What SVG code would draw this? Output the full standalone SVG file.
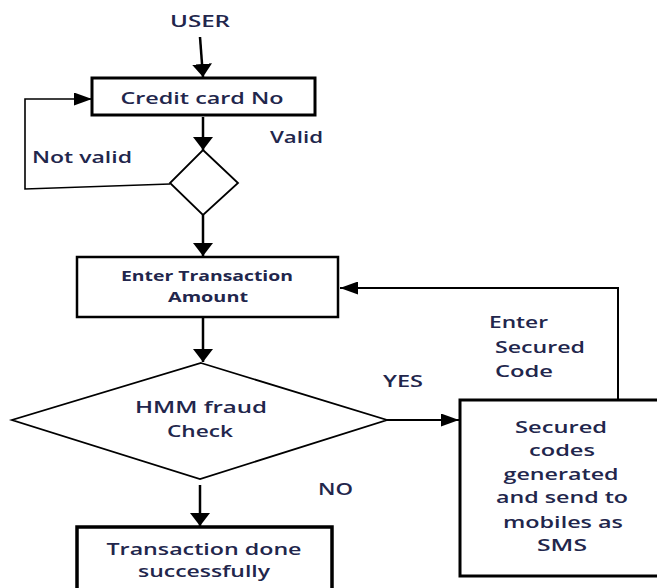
<svg xmlns="http://www.w3.org/2000/svg" width="657" height="588" viewBox="0 0 657 588">
  <defs>
    <style>
      text { font-family: "Open Sans", "Noto Sans", "Liberation Sans", sans-serif; font-size: 16px; font-weight: 600; fill: #22264c; }
      .small { font-size: 14px; font-weight: 700; }
      .box { fill: #ffffff; stroke: #000000; stroke-width: 3; }
      .decision { fill: #ffffff; stroke: #000000; stroke-width: 1.8; }
      .flow { fill: none; stroke: #000000; stroke-width: 2.5; }
      .thin { fill: none; stroke: #000000; stroke-width: 1.6; }
    </style>
    <!-- vertical arrowhead: short and wide -->
    <marker id="headV" viewBox="0 0 13 20" refX="13" refY="10" markerWidth="13" markerHeight="20" markerUnits="userSpaceOnUse" orient="auto">
      <path d="M0,0 L13,10 L0,20 Z" fill="#000000"/>
    </marker>
    <!-- horizontal arrowhead: long and narrow -->
    <marker id="headH" viewBox="0 0 18 13" refX="18" refY="6.5" markerWidth="18" markerHeight="13" markerUnits="userSpaceOnUse" orient="auto">
      <path d="M0,0 L18,6.5 L0,13 Z" fill="#000000"/>
    </marker>
  </defs>

  <rect x="0" y="0" width="657" height="588" fill="#ffffff"/>

  <!-- connectors -->
  <g id="connectors">
    <line class="flow" x1="200" y1="37" x2="203" y2="77" marker-end="url(#headV)"/>
    <line class="flow" x1="203" y1="117" x2="203" y2="150" marker-end="url(#headV)"/>
    <polyline class="thin" points="170,184 25,189 25,99 92,99" marker-end="url(#headH)"/>
    <line class="flow" x1="203" y1="215" x2="203" y2="256" marker-end="url(#headV)"/>
    <line class="flow" x1="203" y1="318" x2="203" y2="362" marker-end="url(#headV)"/>
    <line class="thin" x1="387" y1="420" x2="459" y2="420" marker-end="url(#headH)" style="stroke-width:2"/>
    <polyline class="thin" points="618,400 618,288 340,288" marker-end="url(#headH)" style="stroke-width:2"/>
    <line class="flow" x1="200" y1="485" x2="200" y2="526" marker-end="url(#headV)"/>
  </g>

  <!-- start label -->
  <g id="user">
    <text x="200" y="27" text-anchor="middle" textLength="60" lengthAdjust="spacingAndGlyphs">USER</text>
  </g>

  <g id="credit-card">
    <rect class="box" x="92" y="78" width="223" height="37"/>
    <text x="202" y="104" text-anchor="middle" textLength="163" lengthAdjust="spacingAndGlyphs">Credit card No</text>
  </g>

  <g id="card-check">
    <polygon class="decision" points="203,150 238,183 203,215 170,183"/>
  </g>

  <g id="amount">
    <rect class="box" x="77" y="257" width="261" height="60" style="stroke-width:2.5"/>
    <text class="small" x="207" y="281" text-anchor="middle" textLength="172" lengthAdjust="spacingAndGlyphs">Enter Transaction</text>
    <text class="small" x="208" y="302" text-anchor="middle" textLength="80" lengthAdjust="spacingAndGlyphs">Amount</text>
  </g>

  <g id="fraud-check">
    <polygon class="decision" points="201,363 387,420 200,479 12,420"/>
    <text x="201" y="413" text-anchor="middle" textLength="132" lengthAdjust="spacingAndGlyphs">HMM fraud</text>
    <text x="200" y="437" text-anchor="middle" textLength="66" lengthAdjust="spacingAndGlyphs">Check</text>
  </g>

  <g id="secured-codes">
    <rect class="box" x="460" y="400" width="220" height="176"/>
    <text x="561" y="433" text-anchor="middle" textLength="92" lengthAdjust="spacingAndGlyphs">Secured</text>
    <text x="562" y="456" text-anchor="middle" textLength="66" lengthAdjust="spacingAndGlyphs">codes</text>
    <text x="561" y="480" text-anchor="middle" textLength="115" lengthAdjust="spacingAndGlyphs">generated</text>
    <text x="562" y="503" text-anchor="middle" textLength="132" lengthAdjust="spacingAndGlyphs">and send to</text>
    <text x="563" y="528" text-anchor="middle" textLength="120" lengthAdjust="spacingAndGlyphs">mobiles as</text>
    <text x="562" y="551" text-anchor="middle" textLength="50" lengthAdjust="spacingAndGlyphs">SMS</text>
  </g>

  <g id="done">
    <rect class="box" x="77" y="527" width="255" height="80" style="stroke-width:3.5"/>
    <text x="204" y="555" text-anchor="middle" textLength="195" lengthAdjust="spacingAndGlyphs">Transaction done</text>
    <text x="204" y="577" text-anchor="middle" textLength="132" lengthAdjust="spacingAndGlyphs">successfully</text>
  </g>

  <!-- branch labels -->
  <g id="labels">
    <text x="270" y="143" textLength="53" lengthAdjust="spacingAndGlyphs">Valid</text>
    <text x="32" y="163" textLength="100" lengthAdjust="spacingAndGlyphs">Not valid</text>
    <text x="383" y="387" textLength="40" lengthAdjust="spacingAndGlyphs">YES</text>
    <text x="318" y="495" textLength="35" lengthAdjust="spacingAndGlyphs">NO</text>
    <text x="489" y="328" textLength="59" lengthAdjust="spacingAndGlyphs">Enter</text>
    <text x="495" y="353" textLength="90" lengthAdjust="spacingAndGlyphs">Secured</text>
    <text x="495" y="377" textLength="58" lengthAdjust="spacingAndGlyphs">Code</text>
  </g>
</svg>
